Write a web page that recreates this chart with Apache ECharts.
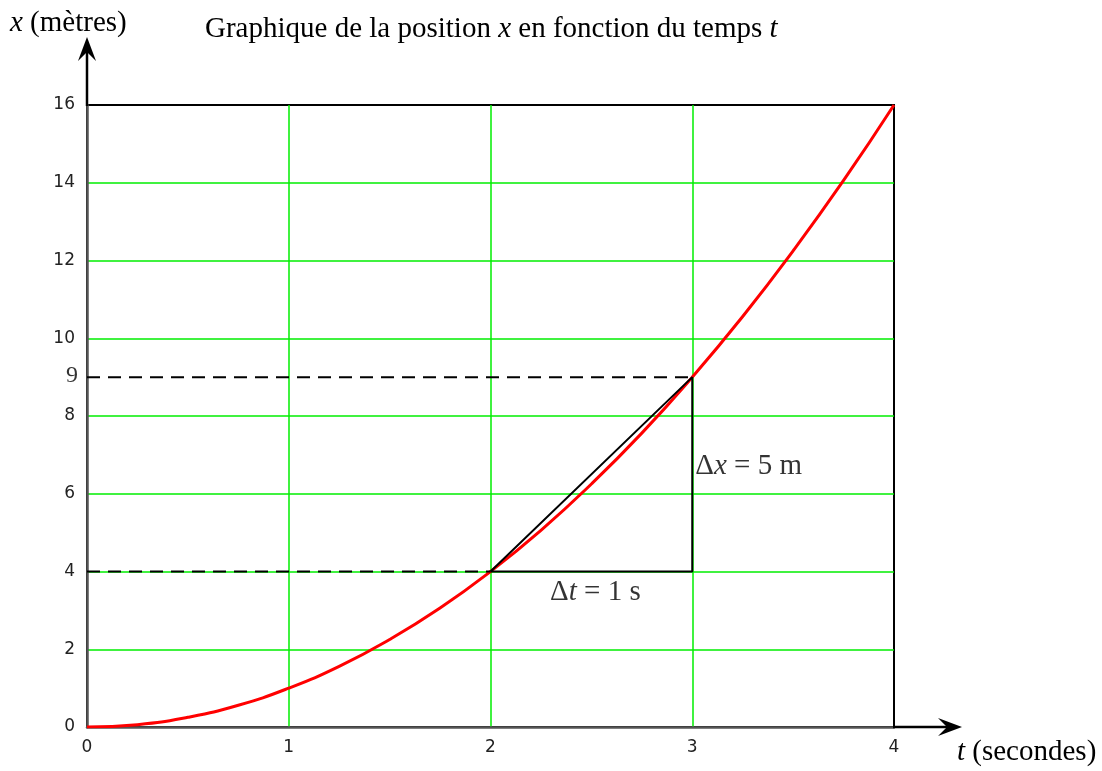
<!DOCTYPE html>
<html>
<head>
<meta charset="utf-8">
<script src="https://cdn.jsdelivr.net/npm/echarts@6/dist/echarts.min.js"></script>
<style>
  html, body { margin: 0; padding: 0; background: #fff; }
  #chart { width: 1102px; height: 771px; }
</style>
</head>
<body>
<div id="chart"></div>
<script>
// Position x (m) versus time t (s), sampled along the curve
const tValues = [0, 0.25, 0.5, 0.75, 1, 1.25, 1.5, 1.75, 2, 2.25, 2.5, 2.75, 3, 3.25, 3.5, 3.75, 4];
const xValues = [0, 0.06, 0.25, 0.56, 1, 1.56, 2.25, 3.06, 4, 5.06, 6.25, 7.56, 9, 10.56, 12.25, 14.06, 16];

// Axis ticks
const tTicks = [0, 1, 2, 3, 4];
const xTicks = [0, 2, 4, 6, 8, 10, 12, 14, 16];

// Secant between the two marked instants
const t1 = 2, t2 = 3;
const x1 = 4, x2 = 9;

const serif = '"Liberation Serif", "DejaVu Serif", serif';
const sans = '"DejaVu Sans", sans-serif';
const FS = 29;

const chart = echarts.init(document.getElementById('chart'), null, { renderer: 'canvas' });

const curve = tValues.map((t, i) => [t, xValues[i]]);

function mathRich(size) {
  return {
    d: { fontFamily: serif, fontSize: size, color: '#000' },
    i: { fontFamily: serif, fontSize: size, fontStyle: 'italic', color: '#000' }
  };
}

const option = {
  animation: false,
  backgroundColor: '#fff',
  grid: {
    left: 87, right: 208, top: 105, bottom: 44,
    show: true, borderColor: '#000', borderWidth: 2, backgroundColor: 'transparent'
  },
  xAxis: {
    type: 'value',
    min: tTicks[0], max: tTicks[tTicks.length - 1], interval: 1,
    axisLine: { show: true, lineStyle: { color: '#555', width: 2.5 } },
    axisTick: { show: false },
    axisLabel: { color: '#222', fontFamily: sans, fontSize: 17, margin: 12 },
    splitLine: { show: true, showMinLine: false, showMaxLine: false, lineStyle: { color: '#00ee00', width: 1.5 } }
  },
  yAxis: {
    type: 'value',
    min: xTicks[0], max: xTicks[xTicks.length - 1], interval: 2,
    axisLine: { show: true, lineStyle: { color: '#555', width: 2.5 } },
    axisTick: { show: false },
    axisLabel: { color: '#222', fontFamily: sans, fontSize: 17, margin: 12, padding: [4, 0, 0, 0] },
    splitLine: { show: true, showMinLine: false, showMaxLine: false, lineStyle: { color: '#00ee00', width: 1.5 } }
  },
  series: [
    {
      name: 'x(t)',
      type: 'line',
      data: curve,
      smooth: true,
      symbol: 'none',
      lineStyle: { color: '#ff0000', width: 3 },
      z: 3
    },
    {
      name: 'x = x2',
      type: 'line',
      data: [[0, x2], [t2, x2]],
      symbol: 'none',
      lineStyle: { color: '#000', width: 2, type: [13, 8] },
      z: 4
    },
    {
      name: 'x = x1',
      type: 'line',
      data: [[0, x1], [t1, x1]],
      symbol: 'none',
      lineStyle: { color: '#000', width: 2, type: [13, 8] },
      z: 4
    },
    {
      name: 'triangle',
      type: 'line',
      data: [[t1, x1], [t2, x2], [t2, x1], [t1, x1]],
      symbol: 'none',
      lineStyle: { color: '#000', width: 2 },
      z: 5
    },
    {
      name: 'labels',
      type: 'scatter',
      symbolSize: 0,
      silent: true,
      data: [
        {
          value: [t2, (x1 + x2) / 2],
          label: {
            show: true, position: 'right', distance: 3, offset: [0, -8],
            formatter: '{d|Δ}{i|x}{d| = ' + (x2 - x1) + ' m}',
            rich: mathRich(FS)
          }
        },
        {
          value: [(t1 + t2) / 2, x1],
          label: {
            show: true, position: 'bottom', distance: 6, offset: [4, 0],
            formatter: '{d|Δ}{i|t}{d| = ' + (t2 - t1) + ' s}',
            rich: mathRich(FS)
          }
        },
        {
          value: [0, x2],
          label: {
            show: true, position: 'left', distance: 9, offset: [0, -1],
            formatter: String(x2),
            fontFamily: serif, fontSize: 24, color: '#000'
          }
        }
      ],
      z: 6
    }
  ]
};

chart.setOption(option);

// Axis arrows and axis names, placed from the axis extremes
function drawDecor() {
  const o = chart.convertToPixel({ gridIndex: 0 }, [tTicks[0], xTicks[0]]);
  const e = chart.convertToPixel({ gridIndex: 0 }, [tTicks[tTicks.length - 1], xTicks[xTicks.length - 1]]);
  const yTop = 37, xEnd = 962;
  const rich = {
    i: { fontFamily: serif, fontSize: FS, fontStyle: 'italic', fill: '#000' },
    d: { fontFamily: serif, fontSize: FS, fill: '#000' }
  };
  chart.setOption({
    graphic: [
      { type: 'line', shape: { x1: o[0], y1: e[1] + 1, x2: o[0], y2: yTop + 6 }, style: { stroke: '#000', lineWidth: 2.5 }, z: 10 },
      { type: 'polygon', shape: { points: [[o[0], yTop], [o[0] - 9, yTop + 24], [o[0], yTop + 15], [o[0] + 9, yTop + 24]] }, style: { fill: '#000' }, z: 10 },
      { type: 'line', shape: { x1: e[0] - 1, y1: o[1], x2: xEnd - 6, y2: o[1] }, style: { stroke: '#000', lineWidth: 2.5 }, z: 10 },
      { type: 'polygon', shape: { points: [[xEnd, o[1]], [xEnd - 24, o[1] - 9], [xEnd - 15, o[1]], [xEnd - 24, o[1] + 9]] }, style: { fill: '#000' }, z: 10 },
      {
        type: 'text', left: 10, top: 9, z: 10,
        style: { text: '{i|x}{d| (mètres)}', rich: rich }
      },
      {
        type: 'text', left: 205, top: 15, z: 10,
        style: { text: '{d|Graphique de la position }{i|x}{d| en fonction du temps }{i|t}', rich: rich }
      },
      {
        type: 'text', left: 957, top: 738, z: 10,
        style: { text: '{i|t}{d| (secondes)}', rich: rich }
      }
    ]
  });
}
drawDecor();
</script>
</body>
</html>
